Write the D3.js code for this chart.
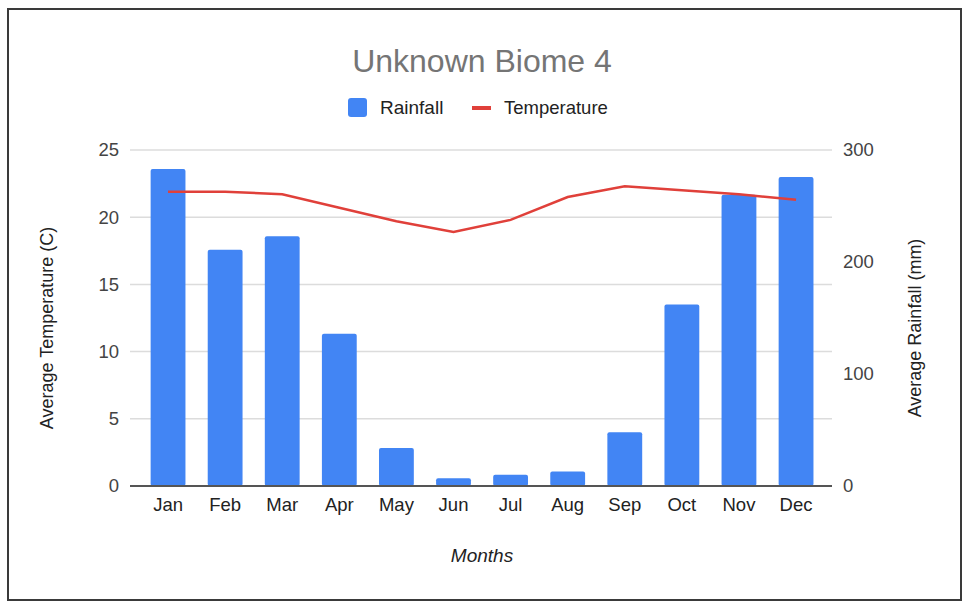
<!DOCTYPE html>
<html>
<head>
<meta charset="utf-8">
<script src="https://cdn.jsdelivr.net/npm/d3@7"></script>
<style>
  body { margin: 0; background: #fff; }
  svg text { font-family: "Liberation Sans", Arial, sans-serif; }
</style>
</head>
<body>
<script>
// data
const months = ['Jan', 'Feb', 'Mar', 'Apr', 'May', 'Jun', 'Jul', 'Aug', 'Sep', 'Oct', 'Nov', 'Dec']
const rainfall = [283, 211, 223, 136, 34, 7, 10, 13, 48, 162, 260, 276]
const temperature = [21.9, 21.9, 21.7, 20.7, 19.7, 18.9, 19.8, 21.5, 22.3, 22.0, 21.7, 21.3]
const tempTicks = [0, 5, 10, 15, 20, 25]
const rainTicks = [0, 100, 200, 300]

const WIDTH = 969
const HEIGHT = 611
const PLOT_LEFT = 130   // gridlines start
const PLOT_RIGHT = 832  // gridlines end
const PLOT_TOP = 150
const PLOT_BOTTOM = 486

const svg = d3.select('body').append('svg').attr('width', WIDTH).attr('height', HEIGHT)

// cadre
svg.append('rect')
    .attr('x', 8).attr('y', 9)
    .attr('width', 953).attr('height', 591)
    .attr('fill', '#fff')
    .attr('stroke', '#3a3a3a')
    .attr('stroke-width', 2)

const x = d3.scaleBand()
    .domain(months)
    .range([139.5, 824.6])
    .paddingInner(0.39)
    .paddingOuter(0.195)

const yTemp = d3.scaleLinear().domain([0, 25]).range([PLOT_BOTTOM, PLOT_TOP])
const yRain = d3.scaleLinear().domain([0, 300]).range([PLOT_BOTTOM, PLOT_TOP])

// gridlines (left axis)
svg.append('g')
    .selectAll('line')
    .data(tempTicks.filter(d => d > 0))
    .enter()
    .append('line')
    .attr('x1', PLOT_LEFT).attr('x2', PLOT_RIGHT)
    .attr('y1', d => yTemp(d)).attr('y2', d => yTemp(d))
    .attr('stroke', '#dcdcdc')
    .attr('stroke-width', 1.5)

// left axis
const axisLeft = d3.axisLeft(yTemp).tickValues(tempTicks).tickSize(0).tickPadding(11)
svg.append('g')
    .attr('transform', `translate(${PLOT_LEFT}, 0)`)
    .call(axisLeft)
    .call(g => g.select('.domain').remove())
    .call(g => g.selectAll('text').attr('font-size', 18.5).attr('fill', '#444'))

// right axis
const axisRight = d3.axisRight(yRain).tickValues(rainTicks).tickSize(0).tickPadding(11)
svg.append('g')
    .attr('transform', `translate(${PLOT_RIGHT}, 0)`)
    .call(axisRight)
    .call(g => g.select('.domain').remove())
    .call(g => g.selectAll('text').attr('font-size', 18.5).attr('fill', '#444'))

// bars
svg.append('g')
    .selectAll('rect')
    .data(rainfall)
    .enter()
    .append('rect')
    .attr('x', (d, i) => x(months[i]))
    .attr('width', x.bandwidth())
    .attr('y', d => yRain(d))
    .attr('height', d => PLOT_BOTTOM - yRain(d))
    .attr('fill', '#4285f4')
    .attr('rx', 2)

// baseline
svg.append('line')
    .attr('x1', PLOT_LEFT).attr('x2', PLOT_RIGHT)
    .attr('y1', PLOT_BOTTOM).attr('y2', PLOT_BOTTOM)
    .attr('stroke', '#555')
    .attr('stroke-width', 1.8)

// temperature line
const line = d3.line()
    .x((d, i) => x(months[i]) + x.bandwidth() / 2)
    .y(d => yTemp(d))
svg.append('path')
    .datum(temperature)
    .attr('d', line)
    .attr('fill', 'none')
    .attr('stroke', '#e0403a')
    .attr('stroke-width', 2.5)

// month labels
const axisBottom = d3.axisBottom(x).tickSize(0).tickPadding(12)
svg.append('g')
    .attr('transform', `translate(0, ${PLOT_BOTTOM})`)
    .call(axisBottom)
    .call(g => g.select('.domain').remove())
    .call(g => g.selectAll('text').attr('font-size', 18.5).attr('fill', '#222'))

// title
svg.append('text')
    .attr('x', 482).attr('y', 72)
    .attr('text-anchor', 'middle')
    .attr('font-size', 32)
    .attr('fill', '#757575')
    .text('Unknown Biome 4')

// legend
const legend = svg.append('g')
legend.append('rect')
    .attr('x', 348).attr('y', 98)
    .attr('width', 19).attr('height', 19)
    .attr('rx', 3)
    .attr('fill', '#4285f4')
legend.append('text')
    .attr('x', 380).attr('y', 114)
    .attr('font-size', 19)
    .attr('fill', '#222')
    .text('Rainfall')
legend.append('line')
    .attr('x1', 472).attr('x2', 491)
    .attr('y1', 108).attr('y2', 108)
    .attr('stroke', '#e0403a')
    .attr('stroke-width', 4)
legend.append('text')
    .attr('x', 504).attr('y', 114)
    .attr('font-size', 18.5)
    .attr('fill', '#222')
    .text('Temperature')

// axis titles
svg.append('text')
    .attr('transform', 'translate(53, 328) rotate(-90)')
    .attr('text-anchor', 'middle')
    .attr('font-size', 18)
    .attr('fill', '#222')
    .text('Average Temperature (C)')

svg.append('text')
    .attr('transform', 'translate(921, 328) rotate(-90)')
    .attr('text-anchor', 'middle')
    .attr('font-size', 18)
    .attr('fill', '#222')
    .text('Average Rainfall (mm)')

svg.append('text')
    .attr('x', 482).attr('y', 562)
    .attr('text-anchor', 'middle')
    .attr('font-size', 19)
    .attr('font-style', 'italic')
    .attr('fill', '#222')
    .text('Months')
</script>
</body>
</html>
